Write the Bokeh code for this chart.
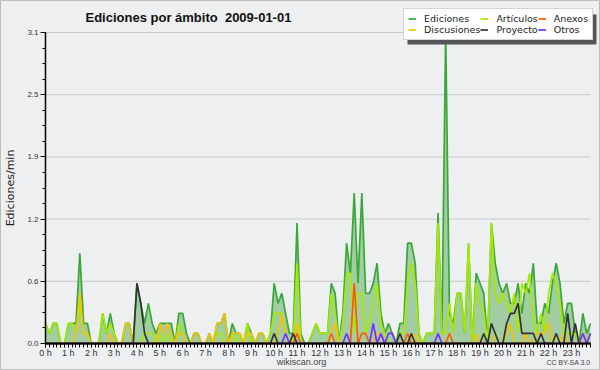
import math
from bokeh.plotting import figure
from bokeh.models import (FixedTicker, Legend, LegendItem, Label, BoxAnnotation,
                          Range1d, PrintfTickFormatter, NumeralTickFormatter)
from bokeh.embed import file_html
from bokeh.resources import INLINE

# 10-minute bins, edits per minute (one row per hour)
ediciones = [
    0.2, 0.1, 0.2, 0.2, 0.0, 0.0,
    0.2, 0.2, 0.2, 0.9, 0.2, 0.2,
    0.0, 0.0, 0.0, 0.3, 0.1, 0.3,
    0.1, 0.0, 0.0, 0.2, 0.2, 0.0,
    0.6, 0.4, 0.2, 0.4, 0.2, 0.1,
    0.2, 0.2, 0.2, 0.2, 0.0, 0.3,
    0.3, 0.1, 0.0, 0.1, 0.1, 0.0,
    0.0, 0.1, 0.0, 0.2, 0.2, 0.3,
    0.0, 0.2, 0.1, 0.1, 0.0, 0.2,
    0.1, 0.0, 0.1, 0.1, 0.0, 0.1,
    0.6, 0.4, 0.5, 0.3, 0.1, 0.1,
    1.2, 0.1, 0.0, 0.0, 0.1, 0.2,
    0.1, 0.1, 0.1, 0.6, 0.5, 0.0,
    0.3, 1.0, 0.7, 1.5, 0.6, 1.5,
    0.5, 0.5, 0.6, 0.8, 0.3, 0.1,
    0.2, 0.1, 0.0, 0.2, 0.2, 1.0,
    1.0, 0.8, 0.1, 0.0, 0.1, 0.1,
    0.1, 1.3, 0.1, 3.1, 0.3, 0.2,
    0.5, 0.5, 0.1, 1.0, 0.0, 0.7,
    0.6, 0.5, 0.0, 1.2, 0.8, 0.6,
    0.5, 0.6, 0.4, 0.4, 0.6, 0.3,
    0.6, 0.5, 0.8, 0.2, 0.2, 0.4,
    0.3, 0.6, 0.8, 0.6, 0.2, 0.4,
    0.4, 0.1, 0.0, 0.3, 0.1, 0.2,
]
articulos = [
    0.2, 0.1, 0.2, 0.2, 0.0, 0.0,
    0.2, 0.2, 0.1, 0.4, 0.1, 0.1,
    0.0, 0.0, 0.0, 0.3, 0.1, 0.2,
    0.1, 0.0, 0.0, 0.0, 0.0, 0.0,
    0.0, 0.0, 0.1, 0.1, 0.1, 0.0,
    0.1, 0.0, 0.1, 0.0, 0.0, 0.2,
    0.1, 0.0, 0.0, 0.0, 0.0, 0.0,
    0.0, 0.0, 0.0, 0.1, 0.1, 0.0,
    0.0, 0.1, 0.0, 0.1, 0.0, 0.2,
    0.0, 0.0, 0.0, 0.0, 0.0, 0.1,
    0.3, 0.3, 0.3, 0.1, 0.0, 0.0,
    0.8, 0.0, 0.0, 0.0, 0.1, 0.2,
    0.1, 0.1, 0.1, 0.5, 0.3, 0.0,
    0.2, 0.7, 0.7, 0.1, 0.5, 0.5,
    0.1, 0.2, 0.4, 0.6, 0.2, 0.1,
    0.0, 0.0, 0.0, 0.1, 0.1, 0.6,
    0.8, 0.6, 0.1, 0.0, 0.1, 0.1,
    0.1, 1.2, 0.1, 0.1, 0.4, 0.1,
    0.5, 0.5, 0.1, 1.0, 0.0, 0.6,
    0.4, 0.3, 0.0, 1.2, 0.5, 0.4,
    0.5, 0.4, 0.3, 0.5, 0.1, 0.6,
    0.5, 0.7, 0.2, 0.1, 0.3, 0.1,
    0.5, 0.7, 0.6, 0.4, 0.1, 0.1,
    0.1, 0.1, 0.0, 0.1, 0.0, 0.1,
]
discusiones = [
    0.0, 0.0, 0.0, 0.0, 0.0, 0.0,
    0.0, 0.0, 0.1, 0.5, 0.1, 0.1,
    0.0, 0.0, 0.0, 0.0, 0.0, 0.1,
    0.0, 0.0, 0.0, 0.2, 0.2, 0.0,
    0.0, 0.0, 0.0, 0.0, 0.0, 0.0,
    0.2, 0.1, 0.2, 0.1, 0.0, 0.1,
    0.1, 0.0, 0.0, 0.1, 0.1, 0.0,
    0.0, 0.1, 0.0, 0.2, 0.2, 0.3,
    0.0, 0.1, 0.1, 0.1, 0.0, 0.1,
    0.1, 0.0, 0.1, 0.1, 0.0, 0.0,
    0.0, 0.1, 0.3, 0.1, 0.0, 0.0,
    0.2, 0.0, 0.0, 0.0, 0.0, 0.0,
    0.0, 0.0, 0.0, 0.1, 0.2, 0.0,
    0.0, 0.0, 0.0, 0.0, 0.0, 0.0,
    0.0, 0.0, 0.0, 0.1, 0.1, 0.0,
    0.0, 0.0, 0.0, 0.0, 0.0, 0.0,
    0.0, 0.1, 0.0, 0.0, 0.0, 0.0,
    0.0, 0.0, 0.0, 0.0, 0.0, 0.0,
    0.0, 0.0, 0.0, 0.0, 0.0, 0.1,
    0.0, 0.0, 0.0, 0.0, 0.1, 0.0,
    0.0, 0.1, 0.2, 0.0, 0.0, 0.0,
    0.1, 0.0, 0.0, 0.1, 0.1, 0.1,
    0.2, 0.0, 0.1, 0.0, 0.1, 0.0,
    0.0, 0.0, 0.0, 0.0, 0.0, 0.0,
]
anexos = [
    0.0, 0.0, 0.0, 0.0, 0.0, 0.0,
    0.0, 0.0, 0.0, 0.0, 0.0, 0.0,
    0.0, 0.0, 0.0, 0.0, 0.0, 0.0,
    0.0, 0.0, 0.0, 0.0, 0.0, 0.0,
    0.0, 0.0, 0.0, 0.0, 0.0, 0.0,
    0.0, 0.0, 0.0, 0.0, 0.0, 0.0,
    0.0, 0.0, 0.0, 0.0, 0.0, 0.0,
    0.0, 0.0, 0.0, 0.0, 0.0, 0.0,
    0.0, 0.0, 0.0, 0.0, 0.0, 0.0,
    0.0, 0.0, 0.0, 0.0, 0.0, 0.0,
    0.0, 0.0, 0.0, 0.0, 0.0, 0.0,
    0.1, 0.0, 0.0, 0.0, 0.0, 0.0,
    0.0, 0.0, 0.0, 0.1, 0.0, 0.0,
    0.0, 0.0, 0.0, 0.6, 0.0, 0.1,
    0.1, 0.0, 0.0, 0.0, 0.0, 0.0,
    0.0, 0.0, 0.0, 0.0, 0.0, 0.1,
    0.0, 0.0, 0.0, 0.0, 0.0, 0.0,
    0.0, 0.0, 0.0, 0.0, 0.1, 0.0,
    0.0, 0.0, 0.0, 0.0, 0.0, 0.0,
    0.0, 0.0, 0.0, 0.0, 0.0, 0.0,
    0.0, 0.0, 0.0, 0.0, 0.0, 0.0,
    0.0, 0.0, 0.0, 0.0, 0.0, 0.0,
    0.0, 0.0, 0.0, 0.0, 0.0, 0.0,
    0.0, 0.0, 0.0, 0.0, 0.0, 0.0,
]
proyecto = [
    0.0, 0.0, 0.0, 0.0, 0.0, 0.0,
    0.0, 0.0, 0.0, 0.0, 0.0, 0.0,
    0.0, 0.0, 0.0, 0.0, 0.0, 0.0,
    0.0, 0.0, 0.0, 0.0, 0.0, 0.0,
    0.6, 0.4, 0.1, 0.0, 0.0, 0.0,
    0.0, 0.0, 0.0, 0.0, 0.0, 0.0,
    0.0, 0.0, 0.0, 0.0, 0.0, 0.0,
    0.0, 0.0, 0.0, 0.0, 0.0, 0.0,
    0.0, 0.0, 0.0, 0.0, 0.0, 0.0,
    0.0, 0.0, 0.0, 0.0, 0.0, 0.0,
    0.1, 0.0, 0.0, 0.0, 0.0, 0.1,
    0.0, 0.0, 0.0, 0.0, 0.0, 0.0,
    0.0, 0.0, 0.0, 0.0, 0.0, 0.0,
    0.0, 0.0, 0.0, 0.0, 0.0, 0.0,
    0.0, 0.0, 0.0, 0.0, 0.0, 0.0,
    0.0, 0.0, 0.0, 0.1, 0.0, 0.0,
    0.1, 0.0, 0.0, 0.0, 0.0, 0.0,
    0.0, 0.0, 0.0, 0.0, 0.0, 0.0,
    0.0, 0.0, 0.0, 0.0, 0.0, 0.0,
    0.0, 0.1, 0.0, 0.2, 0.1, 0.0,
    0.0, 0.2, 0.3, 0.3, 0.4, 0.1,
    0.1, 0.1, 0.1, 0.0, 0.1, 0.0,
    0.0, 0.0, 0.1, 0.0, 0.0, 0.3,
    0.0, 0.2, 0.0, 0.0, 0.0, 0.0,
]
otros = [
    0.0, 0.0, 0.0, 0.0, 0.0, 0.0,
    0.0, 0.0, 0.0, 0.0, 0.0, 0.0,
    0.0, 0.0, 0.0, 0.0, 0.0, 0.0,
    0.0, 0.0, 0.0, 0.0, 0.0, 0.0,
    0.0, 0.0, 0.0, 0.0, 0.0, 0.0,
    0.0, 0.0, 0.0, 0.0, 0.0, 0.0,
    0.0, 0.0, 0.0, 0.0, 0.0, 0.0,
    0.0, 0.0, 0.0, 0.0, 0.0, 0.0,
    0.0, 0.0, 0.0, 0.0, 0.0, 0.0,
    0.0, 0.0, 0.0, 0.0, 0.0, 0.0,
    0.0, 0.0, 0.0, 0.1, 0.0, 0.0,
    0.0, 0.0, 0.0, 0.0, 0.0, 0.0,
    0.0, 0.0, 0.0, 0.0, 0.0, 0.0,
    0.0, 0.1, 0.0, 0.0, 0.0, 0.0,
    0.0, 0.0, 0.2, 0.0, 0.1, 0.0,
    0.1, 0.1, 0.0, 0.0, 0.0, 0.0,
    0.0, 0.0, 0.0, 0.0, 0.0, 0.0,
    0.0, 0.1, 0.0, 0.0, 0.0, 0.0,
    0.0, 0.0, 0.0, 0.0, 0.0, 0.0,
    0.0, 0.0, 0.0, 0.0, 0.0, 0.0,
    0.0, 0.0, 0.0, 0.0, 0.0, 0.0,
    0.0, 0.0, 0.0, 0.0, 0.0, 0.0,
    0.0, 0.0, 0.0, 0.0, 0.0, 0.0,
    0.0, 0.0, 0.0, 0.1, 0.0, 0.1,
]
series_names = ["Ediciones", "Artículos", "Anexos", "Discusiones", "Proyecto", "Otros"]
y_ticks = [0.0, 0.62, 1.24, 1.86, 2.48, 3.1]
hour_ticks = list(range(24))

n = len(ediciones)
hours = [i / 6 for i in range(n)]
x_end = hours[-1]
y_top = y_ticks[-1]

# layout (pixels inside the figure canvas)
FIG_W, FIG_H = 600, 370
PL, PR, PT, PB = 45, 590, 32, 343          # data area edges
xs = (PR - PL) / x_end                     # px per hour
ys = (PB - PT) / y_top                     # px per unit

BG = "#eeeff0"
C_ED, C_ED_FILL = "#38a838", "#a2cda2"
C_ART, C_DIS, C_ANE, C_PRO, C_OTR = "#a6ea00", "#f7c300", "#ff5a00", "#333333", "#7a2cff"

p = figure(width=FIG_W, height=FIG_H, output_backend="svg", toolbar_location=None, title=None,
           x_range=Range1d(-PL / xs, x_end + (FIG_W - PR) / xs),
           y_range=Range1d(-(FIG_H - PB) / ys, y_top + PT / ys),
           min_border=0, min_border_left=0, min_border_right=0,
           min_border_top=0, min_border_bottom=0,
           background_fill_color=BG, border_fill_color=BG,
           outline_line_color="#bdbdbd", outline_line_width=1)

# horizontal grid lines over the data area only
p.segment(x0=[0] * len(y_ticks), x1=[x_end] * len(y_ticks), y0=y_ticks, y1=y_ticks,
          line_color="#c9c9c9", line_width=1)
p.xgrid.visible = False
p.ygrid.visible = False

p.varea(x=hours, y1=[0] * n, y2=ediciones, fill_color=C_ED_FILL)
r_ed = p.line(hours, ediciones, line_color=C_ED, line_width=1.7)
r_art = p.line(hours, articulos, line_color=C_ART, line_width=1.7)
r_dis = p.line(hours, discusiones, line_color=C_DIS, line_width=1.7)
r_ane = p.line(hours, anexos, line_color=C_ANE, line_width=1.7)
r_pro = p.line(hours, proyecto, line_color=C_PRO, line_width=1.7)
r_otr = p.line(hours, otros, line_color=C_OTR, line_width=1.7)

# axes drawn at the data origin
xa, ya = p.xaxis[0], p.yaxis[0]
xa.fixed_location = 0
ya.fixed_location = 0
xa.bounds = (0, x_end)
ya.bounds = (0, y_top)
xa.ticker = FixedTicker(ticks=hour_ticks, minor_ticks=hours)
xa.formatter = PrintfTickFormatter(format="%d h")
ya.ticker = FixedTicker(ticks=y_ticks, minor_ticks=[k * y_top / 20 for k in range(21)])
ya.formatter = NumeralTickFormatter(format="0.0")
for ax in (xa, ya):
    ax.axis_line_color = "black"
    ax.major_tick_line_color = "black"
    ax.minor_tick_line_color = "black"
    ax.major_tick_in = 0
    ax.minor_tick_in = 0
    ax.major_label_text_font = "Liberation Sans"
    ax.major_label_text_color = "#333333"
xa.major_label_standoff = 0
ya.major_label_standoff = 2
xa.axis_line_width = 2
ya.axis_line_width = 1.5
xa.major_tick_out = 4
xa.minor_tick_out = 4
ya.major_tick_out = 5
ya.minor_tick_out = 3
xa.major_label_text_font_size = "9px"
ya.major_label_text_font_size = "8px"

# texts
p.add_layout(Label(x=10, y=FIG_H - (PT + PB) / 2, x_units="screen", y_units="screen",
                   text="Ediciones/min", angle=math.pi / 2, text_font="DejaVu Sans",
                   text_font_size="11px", text_color="#222222",
                   text_align="center", text_baseline="middle"))
p.add_layout(Label(x=85, y=FIG_H - 17, x_units="screen", y_units="screen",
                   text="Ediciones por ámbito\u00a0 2009-01-01", text_font="Liberation Sans",
                   text_font_size="13px", text_font_style="bold", text_color="#111111",
                   text_baseline="middle", text_align="left"))
p.add_layout(Label(x=301, y=FIG_H - 361, x_units="screen", y_units="screen", text="wikiscan.org",
                   text_font="Liberation Sans", text_font_size="9px", text_color="#444444",
                   text_baseline="middle", text_align="center"))
p.add_layout(Label(x=PR, y=FIG_H - 362, x_units="screen", y_units="screen", text="CC BY-SA 3.0",
                   text_font="Liberation Sans", text_font_size="7px", text_color="#444444",
                   text_baseline="middle", text_align="right"))

# legend with drop shadow
LG_X, LG_Y, LG_W, LG_H = 403, FIG_H - 40, 189, 30
p.add_layout(BoxAnnotation(left=LG_X + 4, right=LG_X + LG_W + 4, bottom=LG_Y - 4, top=LG_Y + LG_H - 4,
                           left_units="screen", right_units="screen",
                           bottom_units="screen", top_units="screen",
                           fill_color="#555555", fill_alpha=1, line_color=None))
renderers = [r_ed, r_art, r_ane, r_dis, r_pro, r_otr]
legend = Legend(items=[LegendItem(label=nm, renderers=[r]) for nm, r in zip(series_names, renderers)],
                location=(LG_X, LG_Y), orientation="horizontal", ncols=3,
                label_text_font="DejaVu Sans", label_text_font_size="9.5px",
                label_text_color="#222222", glyph_width=8, glyph_height=9,
                label_height=9, label_standoff=8, spacing=0, padding=4, margin=0,
                border_line_color="#aaaaaa", background_fill_color="white",
                background_fill_alpha=1)
p.add_layout(legend, "center")

open("out.html", "w").write(file_html(p, INLINE))
